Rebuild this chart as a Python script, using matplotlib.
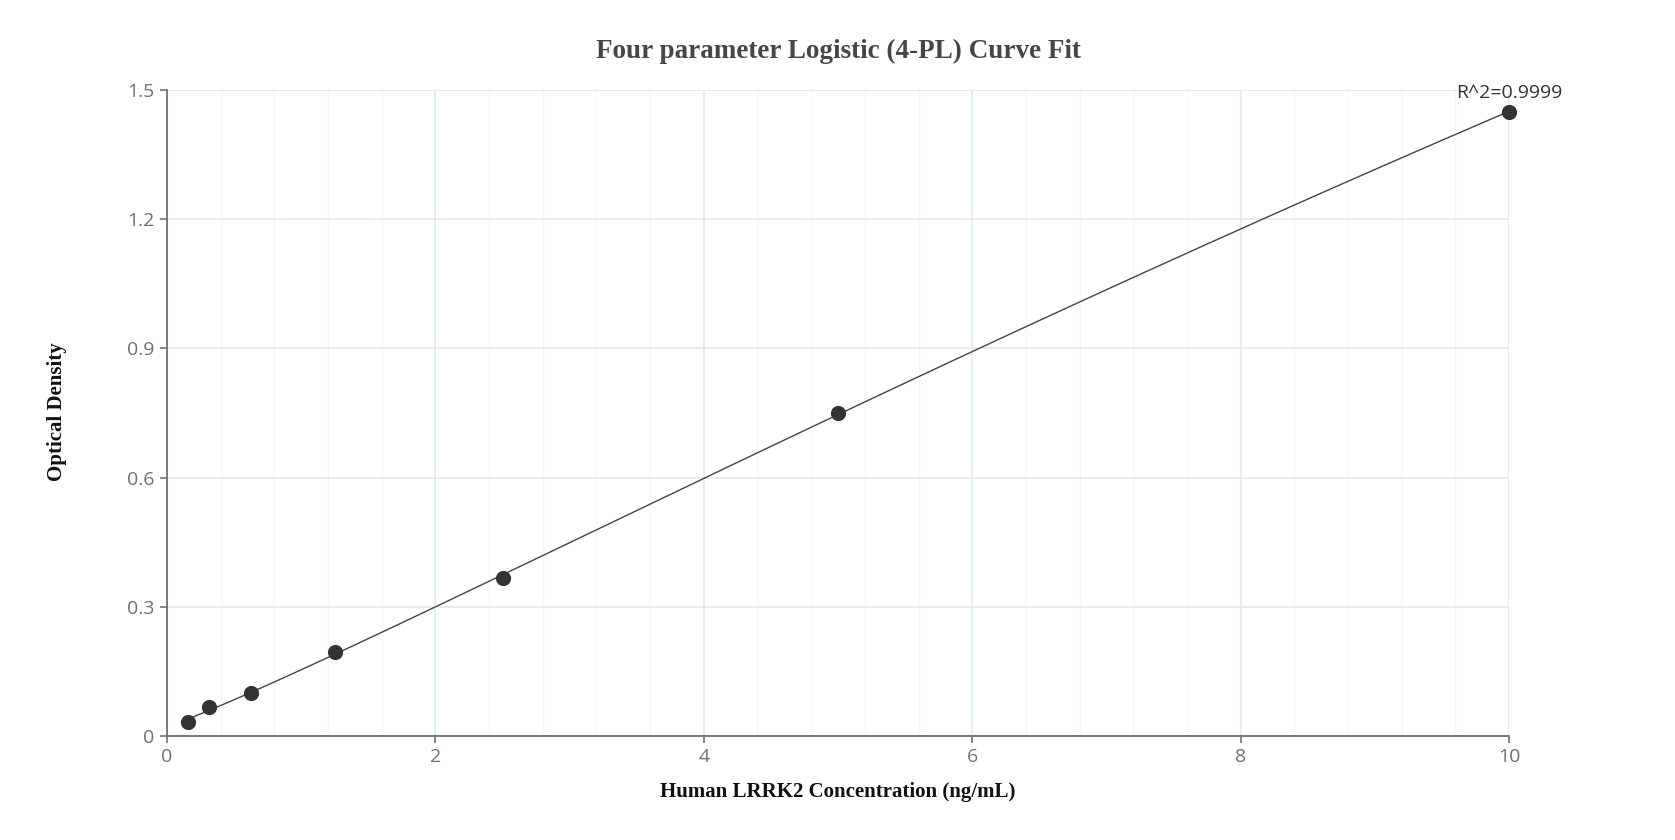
import numpy as np
import matplotlib
matplotlib.use("Agg")
import matplotlib.pyplot as plt
from matplotlib.ticker import MultipleLocator

# ---- data ----
conc = [0.156, 0.313, 0.625, 1.25, 2.5, 5.0, 10.0]
od = [0.033, 0.067, 0.100, 0.194, 0.368, 0.749, 1.450]
r2_label = "R^2=0.9999"
title = "Four parameter Logistic (4-PL) Curve Fit"
xlabel = "Human LRRK2 Concentration (ng/mL)"
ylabel = "Optical Density"
xticks = [0, 2, 4, 6, 8, 10]
yticks = [0, 0.3, 0.6, 0.9, 1.2, 1.5]
ytick_labels = ["0", "0.3", "0.6", "0.9", "1.2", "1.5"]


def four_pl(x, p):
    a, b, c, d = p
    return d + (a - d) / (1.0 + (x / c) ** b)


def fit_4pl(x, y):
    x = np.asarray(x, float)
    y = np.asarray(y, float)
    p = np.array([0.0, 1.0, 20.0, 4.0])
    lam = 1e-3
    def resid(pp):
        return y - four_pl(x, pp)
    r = resid(p)
    cost = np.sum(r ** 2)
    for _ in range(500):
        J = np.zeros((len(x), 4))
        for k in range(4):
            h = 1e-6 * max(1.0, abs(p[k]))
            dp = np.zeros(4); dp[k] = h
            J[:, k] = (four_pl(x, p + dp) - four_pl(x, p - dp)) / (2 * h)
        A = J.T @ J
        g = J.T @ r
        try:
            step = np.linalg.solve(A + lam * np.diag(np.diag(A) + 1e-12), g)
        except np.linalg.LinAlgError:
            break
        pn = p + step
        if pn[2] <= 0 or not np.all(np.isfinite(pn)):
            lam *= 10
            continue
        rn = resid(pn)
        cn = np.sum(rn ** 2)
        if np.isfinite(cn) and cn < cost:
            p, r, cost = pn, rn, cn
            lam = max(lam / 3, 1e-9)
        else:
            lam *= 5
        if lam > 1e8:
            break
    return p


params = fit_4pl(conc, od)
xs = np.linspace(min(conc), max(conc), 400)
ys = four_pl(xs, params)
if not np.all(np.isfinite(ys)):
    coef = np.polyfit(conc, od, 1)
    ys = np.polyval(coef, xs)

W, H = 1675, 840
fig = plt.figure(figsize=(W / 100, H / 100), dpi=100)
ax = fig.add_axes([167 / W, 1 - 736 / H, (1509 - 167) / W, (736 - 90) / H])

tick_color = "#6e7079"
ax.set_xlim(0, 10)
ax.set_ylim(0, 1.5)
ax.set_xticks(xticks)
ax.set_xticklabels([str(t) for t in xticks])
ax.set_yticks(yticks)
ax.set_yticklabels(ytick_labels)
ax.xaxis.set_minor_locator(MultipleLocator(0.4))

ax.grid(True, which="major", axis="both", color="#e0e6f1", linewidth=1.1, zorder=0)
ax.grid(True, which="minor", axis="x", color="#f4f6fa", linewidth=1.0, zorder=0)
ax.set_axisbelow(True)

for s in ["top", "right"]:
    ax.spines[s].set_visible(False)
for s in ["left", "bottom"]:
    ax.spines[s].set_color(tick_color)
    ax.spines[s].set_linewidth(1.3)

ax.tick_params(axis="both", which="major", length=5, width=1.2, color=tick_color,
               labelcolor=tick_color, labelsize=14, pad=4)
ax.tick_params(axis="x", which="minor", length=0)
for lab in ax.get_xticklabels() + ax.get_yticklabels():
    lab.set_fontfamily("Open Sans")

ax.plot(xs, ys, color="#444444", linewidth=1.0, zorder=3, clip_on=False)
ax.scatter(conc, od, s=120, color="#333333", zorder=4, linewidths=0, clip_on=False)

ax.text(conc[-1], od[-1] + 0.022, r2_label, ha="center", va="bottom",
        fontsize=14, color="#333333", family="Open Sans", zorder=5)

fig.text(838 / W, 1 - 51 / H, title, ha="center", va="center",
         fontsize=19.5, fontweight="bold", color="#464646", family="Liberation Serif")
fig.text(838 / W, 1 - 792 / H, xlabel, ha="center", va="center",
         fontsize=15, fontweight="bold", color="#111111", family="Liberation Serif")
fig.text(57 / W, 1 - 412 / H, ylabel, ha="center", va="center", rotation=90,
         fontsize=15, fontweight="bold", color="#111111", family="Liberation Serif")

fig.savefig("out.png", dpi=100, facecolor="white")
